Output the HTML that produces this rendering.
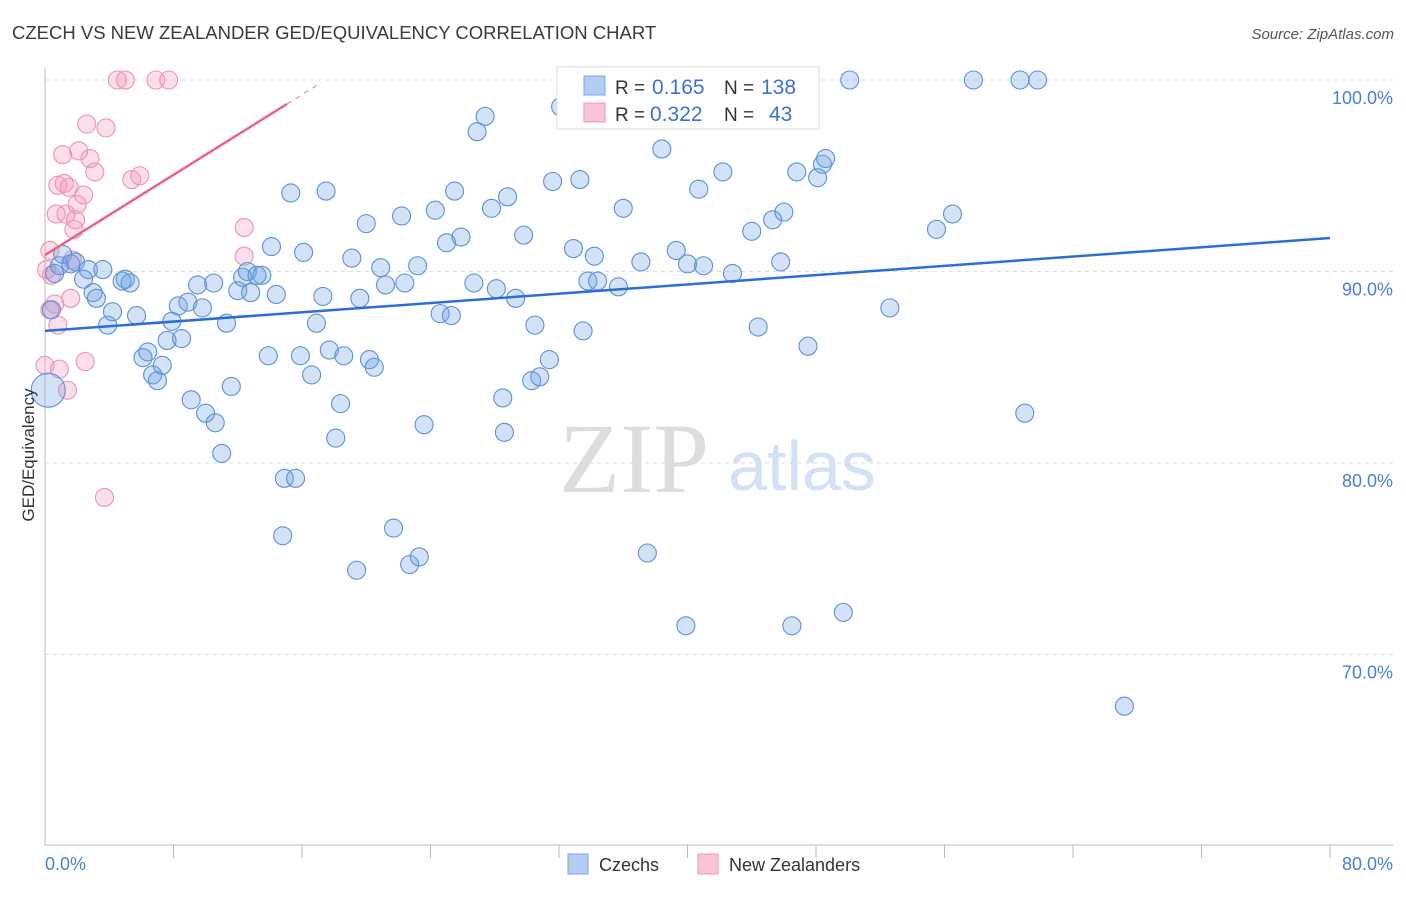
<!DOCTYPE html>
<html><head><meta charset="utf-8"><style>
body{margin:0;background:#fff;font-family:"Liberation Sans",sans-serif;}
</style></head><body>
<svg width="1406" height="892" viewBox="0 0 1406 892" style="font-family:'Liberation Sans',sans-serif">
<text x="12" y="39" font-size="18.5" fill="#3a3a3a">CZECH VS NEW ZEALANDER GED/EQUIVALENCY CORRELATION CHART</text>
<text x="1394" y="39" font-size="15" fill="#555" text-anchor="end" font-style="italic">Source: ZipAtlas.com</text>
<text x="634" y="492" font-size="100" fill="#ddd" text-anchor="middle" style="font-family:'Liberation Serif',serif">ZIP</text>
<text x="802" y="490" font-size="70" fill="#d3e1f5" text-anchor="middle">atlas</text>
<g id="grid"></g>
<g id="axes"></g>
<g id="pts"></g>
<g id="trend"></g>
<text transform="translate(34,455) rotate(-90)" font-size="17" fill="#333" text-anchor="middle">GED/Equivalency</text>
<g>
<rect x="557" y="67" width="262" height="62" fill="#fff" stroke="#ddd"/>
<rect x="584" y="76" width="21" height="19" fill="#b4cdf2" stroke="#7aa6e6"/>
<rect x="584" y="103" width="21" height="19" fill="#f9c4d3" stroke="#ee9ab4"/>
<text x="615" y="94" font-size="19" fill="#333">R =</text>
<text x="652" y="94" font-size="21" fill="#3a74d0">0.165</text>
<text x="724" y="94" font-size="19" fill="#333">N =</text>
<text x="761" y="94" font-size="21" fill="#3a74d0">138</text>
<text x="615" y="121" font-size="19" fill="#333">R =</text>
<text x="650" y="121" font-size="21" fill="#3a74d0">0.322</text>
<text x="724" y="121" font-size="19" fill="#333">N =</text>
<text x="769" y="121" font-size="21" fill="#3a74d0">43</text>
</g>
<g>
<rect x="568" y="854" width="20" height="20" fill="#b4cdf2" stroke="#7aa6e6"/>
<text x="599" y="871" font-size="18" fill="#333">Czechs</text>
<rect x="698" y="854" width="20" height="20" fill="#f9c4d3" stroke="#ee9ab4"/>
<text x="729" y="871" font-size="18" fill="#333">New Zealanders</text>
</g>
</svg>
<script>
const blueX=[0.4,0.6,0.9,1.1,1.6,1.9,2.7,2.4,3.0,3.2,3.6,3.9,4.2,4.8,5.0,5.3,5.7,6.1,6.4,6.7,7.0,7.3,7.6,7.9,8.3,8.5,8.9,9.1,9.5,9.8,10.0,10.5,10.6,11.0,11.3,11.6,12.0,12.3,12.6,12.8,13.2,13.5,13.9,14.1,14.4,14.9,14.8,15.3,15.6,15.9,16.1,16.6,16.9,17.3,17.5,17.7,18.1,18.4,18.6,19.1,19.4,19.6,20.0,20.2,20.5,20.9,21.2,21.7,22.2,22.4,22.7,23.2,23.3,23.6,24.3,24.6,25.0,25.3,25.5,25.9,26.7,26.9,27.4,27.8,28.1,28.5,28.6,28.8,29.3,29.8,30.3,30.5,30.8,31.4,31.6,32.1,32.9,33.3,33.5,33.8,34.2,34.4,35.7,36.0,37.1,37.5,38.4,39.3,39.9,40.0,40.7,41.0,42.2,42.8,44.0,44.4,45.3,45.8,46.0,46.5,46.8,47.5,48.1,48.4,48.6,49.7,50.1,52.6,55.5,56.5,57.8,60.7,61.0,61.8,67.2,36.2];
const blueY=[88.0,89.9,90.3,90.9,90.4,90.5,90.1,89.6,88.9,88.6,90.1,87.2,87.9,89.5,89.6,89.4,87.7,85.5,85.8,84.6,84.3,85.1,86.4,87.4,88.2,86.5,88.4,83.3,89.3,88.1,82.6,89.4,82.1,80.5,87.3,84.0,89.0,89.7,90.0,88.9,89.8,89.8,85.6,91.3,88.8,79.2,76.2,94.1,79.2,85.6,91.0,84.6,87.3,88.7,94.2,85.9,81.3,83.1,85.6,90.7,74.4,88.6,92.5,85.4,85.0,90.2,89.3,76.6,92.9,89.4,74.7,90.3,75.1,82.0,93.2,87.8,91.5,87.7,94.2,91.8,89.4,97.3,98.1,93.3,89.1,83.4,81.6,93.9,88.6,91.9,84.3,87.2,84.5,85.4,94.7,98.6,91.2,94.8,86.9,89.5,90.8,89.5,89.2,93.3,90.5,75.3,96.4,91.1,71.5,90.4,94.3,90.3,95.2,89.9,92.1,87.1,92.7,90.5,93.1,71.5,95.2,86.1,94.9,95.6,95.9,72.2,100,88.1,92.2,93.0,100,100,82.6,100,67.3,100];
const pinkX=[0,0.1,0.3,0.4,0.6,0.8,0.7,0.8,0.9,1.1,1.2,1.3,1.4,1.5,1.6,1.7,1.8,1.9,2.0,2.1,2.4,2.5,2.6,2.8,3.1,3.7,3.8,4.5,5.0,5.4,5.9,6.9,7.7,12.4,12.4,0.3];
const pinkY=[85.1,90.1,91.1,89.8,88.3,87.2,93.0,94.5,84.9,96.1,94.6,93.0,83.8,94.4,88.6,90.6,92.2,92.7,93.5,96.3,94.0,85.3,97.7,95.9,95.2,78.2,97.5,100,100,94.8,95.0,100,100,92.3,90.8,88.0];
const bigBlue={x:0.2,y:83.8};
const blueTrend=[86.9,91.75];
const pinkTrend=[90.86,98.75,15.07];
const yTicks=[100,90,80,70];
const yTickLabels=["100.0%","90.0%","80.0%","70.0%"];
const xEnds=["0.0%","80.0%"];
const NS="http://www.w3.org/2000/svg";
const X=v=>45+v*16.0625, Y=v=>80+(100-v)*19.15;
function mk(p,t,a){const e=document.createElementNS(NS,t);for(const k in a)e.setAttribute(k,a[k]);p.appendChild(e);return e;}
const grid=document.getElementById('grid'),axes=document.getElementById('axes'),pts=document.getElementById('pts'),trend=document.getElementById('trend');
yTicks.forEach((v,i)=>{
 const l=mk(grid,'line',{x1:45,x2:1393,y1:Y(v),y2:Y(v),stroke:'#ddd','stroke-dasharray':'4,4'});
 
 
 const t=mk(axes,'text',{x:1393,y:Y(v)+24,'font-size':18,fill:'#4a7fd6','text-anchor':'end'});t.textContent=yTickLabels[i];
 
 
});
let a=mk(axes,'line',{x1:45,x2:45,y1:68,y2:845,stroke:'#bbb'});


a=mk(axes,'line',{x1:45,x2:1393,y1:845,y2:845,stroke:'#bbb'});


for(let i=1;i<=10;i++){const tk=mk(axes,'line',{x1:X(i*8),x2:X(i*8),y1:845,y2:858,stroke:'#bbb'});
 
 }
let t=mk(axes,'text',{x:45,y:870,'font-size':18,fill:'#4a7fd6'});t.textContent=xEnds[0];


t=mk(axes,'text',{x:1393,y:870,'font-size':18,fill:'#4a7fd6','text-anchor':'end'});t.textContent=xEnds[1];


pinkX.forEach((x,i)=>{const c=mk(pts,'circle',{cx:X(x),cy:Y(pinkY[i]),r:9,fill:'rgba(244,150,180,0.3)',stroke:'#ec94b2','stroke-width':1.1});
 
 });
blueX.forEach((x,i)=>{const c=mk(pts,'circle',{cx:X(x),cy:Y(blueY[i]),r:9,fill:'rgba(110,160,230,0.3)',stroke:'#5a90dc','stroke-width':1.1});
 
 });
let bc=mk(pts,'circle',{cx:X(bigBlue.x),cy:Y(bigBlue.y),r:17,fill:'rgba(110,160,230,0.3)',stroke:'#5a90dc','stroke-width':1.1});


let bl=mk(trend,'line',{x1:X(0),y1:Y(blueTrend[0]),x2:X(80),y2:Y(blueTrend[1]),stroke:'#2a6fd6','stroke-width':2.5});


let pl=mk(trend,'line',{x1:X(0),y1:Y(pinkTrend[0]),x2:X(pinkTrend[2]),y2:Y(pinkTrend[1]),stroke:'#e8648e','stroke-width':2.5});


const s=(pinkTrend[1]-pinkTrend[0])/pinkTrend[2];
let pd=mk(trend,'line',{x1:X(pinkTrend[2]),y1:Y(pinkTrend[1]),x2:X(17.2),y2:Y(pinkTrend[0]+s*17.2),stroke:'#f0a0b8','stroke-width':1.5,'stroke-dasharray':'5,5'});


</script>
</body></html>
